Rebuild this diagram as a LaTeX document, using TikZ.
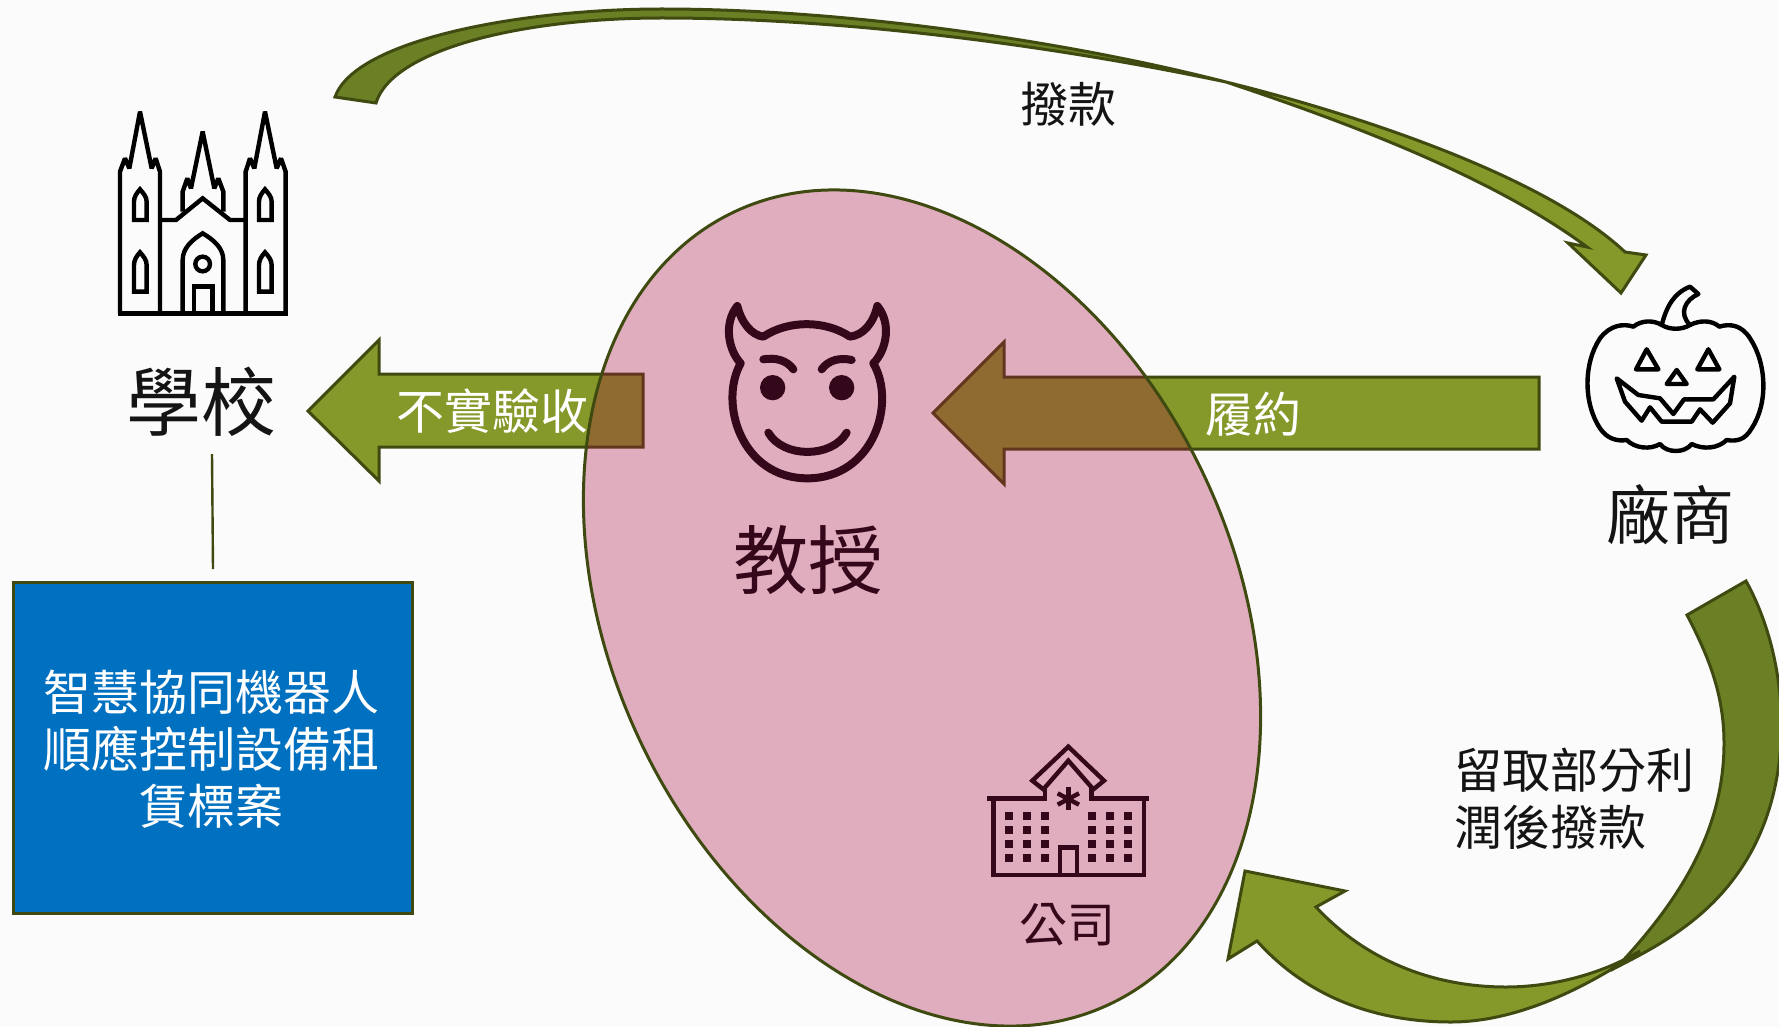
\documentclass[tikz,border=0pt]{standalone}
\usepackage{fontspec}
\setmainfont{Noto Sans CJK TC}
\usetikzlibrary{shapes.geometric}
\definecolor{bgc}{RGB}{251,251,251}
\definecolor{rim}{RGB}{63,74,16}
\definecolor{lightg}{RGB}{133,153,42}
\definecolor{darkg}{RGB}{107,127,37}
\definecolor{pinkc}{RGB}{167,15,64}
\definecolor{bluec}{RGB}{0,112,192}
\definecolor{plum}{RGB}{53,7,26}
\definecolor{ink}{RGB}{20,20,20}
\tikzset{
  lband/.style={fill=lightg,draw=rim,line width=3pt,line join=miter},
  dband/.style={fill=darkg,draw=rim,line width=3pt,line join=miter},
  bigtxt/.style={inner sep=0pt,text=ink,font=\fontsize{75pt}{75pt}\selectfont},
  midtxt/.style={inner sep=0pt,text=ink,font=\fontsize{64pt}{64pt}\selectfont},
  txt/.style={inner sep=0pt,font=\fontsize{48pt}{57pt}\selectfont},
  iconB/.style={draw=black,line width=4.4pt,line join=miter,miter limit=2},
  iconP/.style={draw=plum,line width=4.4pt,line join=miter},
}
\begin{document}
\begin{tikzpicture}[x=1pt,y=-1pt]
\useasboundingbox (0,0) rectangle (1779,1027);
\clip (0,0) rectangle (1779,1027);
\fill[bgc] (0,0) rectangle (1779,1027);

% straight arrows
\draw[lband] (308,411) -- (379,340) -- (379,374) -- (643,374) -- (643,447) -- (379,447) -- (379,481) -- cycle;
\draw[lband] (933,413) -- (1004,342) -- (1004,377) -- (1539,377) -- (1539,449) -- (1004,449) -- (1004,484) -- cycle;

% top curved arrow
\draw[dband] (335,97) .. controls (355,40) and (520,9) .. (662,9)
  .. controls (850,9) and (1070,42) .. (1226,82)
  .. controls (1060,47) and (850,18) .. (662,18)
  .. controls (520,18) and (392,50) .. (376,103) -- cycle;
\draw[lband] (1226,82) .. controls (1340,110) and (1540,172) .. (1625,252)
  -- (1646,255) -- (1621,293) -- (1568,243) -- (1587,247)
  .. controls (1490,175) and (1340,120) .. (1226,82) -- cycle;

% bottom curved arrow
\draw[dband] (1746,581) .. controls (1790,660) and (1800,790) .. (1735,877)
  .. controls (1700,925) and (1650,950) .. (1617,967)
  .. controls (1680,900) and (1724,830) .. (1724,743)
  .. controls (1724,690) and (1705,650) .. (1687,615) -- cycle;
\draw[lband] (1640,951) .. controls (1590,985) and (1520,1022) .. (1451,1022)
  .. controls (1380,1022) and (1310,1000) .. (1257,941)
  -- (1228,959) -- (1245,871) -- (1345,891) -- (1316,907)
  .. controls (1370,965) and (1440,987) .. (1506,987)
  .. controls (1550,987) and (1600,975) .. (1640,951) -- cycle;

% ellipse
\node[ellipse,minimum width=623.4pt,minimum height=876.8pt,inner sep=0pt,rotate=25.4,
  fill=pinkc,fill opacity=.33,draw=rim,draw opacity=1,line width=3pt] (prof) at (922,608) {};

% box
\node[rectangle,anchor=north west,minimum width=399pt,minimum height=331pt,inner sep=0pt,
  fill=bluec,draw=rim,line width=3pt] (box) at (12,581) {};
\node[txt,text=white,align=center] (boxt) at (211,749) {智慧協同機器人\\順應控制設備租\\賃標案};
\coordinate (ltop) at (212,454);
\coordinate (lbot) at (213,569);
\draw[rim,line width=2.4pt] (ltop) -- (lbot);

% labels
\node[bigtxt] (school) at (201,402) {學校};
\node[bigtxt,text=plum] (proflabel) at (808,560) {教授};
\node[midtxt] (vendor) at (1670,515) {廠商};
\node[txt,text=white] (t1) at (492,411) {不實驗收};
\node[txt,text=white] (t2) at (1253,414) {履約};
\node[txt,text=ink] (t3) at (1068,104) {撥款};
\node[txt,text=plum] (t4) at (1067,925) {公司};
\node[txt,text=ink,align=left,anchor=west] (t5) at (1454,799) {留取部分利\\潤後撥款};

% church
\begin{scope}[shift={(90,90)},x=.33333pt,y=-.33333pt]
\draw[iconB] (90,670) -- (90,245) -- (105,205) -- (118,235) -- (150,65) -- (185,235) -- (197,205) -- (210,245) -- (210,670);
\draw[iconB] (467,670) -- (467,245) -- (480,205) -- (493,235) -- (525,65) -- (560,235) -- (573,205) -- (587,245) -- (587,670);
\draw[iconB] (84,670) -- (593,670);
\draw[iconB] (278,365) -- (278,305) -- (292,265) -- (303,295) -- (338,125) -- (373,295) -- (385,265) -- (400,305) -- (400,365);
\draw[iconB] (215,390) -- (258,390) -- (338,325) -- (420,390) -- (467,390);
\draw[iconB] (278,665) -- (278,510) .. controls (278,475) and (305,450) .. (338,430) .. controls (372,450) and (400,475) .. (400,510) -- (400,665);
\draw[iconB] (312,665) -- (312,590) -- (367,590) -- (367,665);
\draw[iconB] (338,522) circle (22);
\foreach \dx in {0,375}{
  \begin{scope}[shift={(\dx,0)}]
  \draw[iconB] (132,390) -- (132,335) .. controls (132,320) and (140,310) .. (150,298) .. controls (160,310) and (170,320) .. (170,335) -- (170,390) -- cycle;
  \draw[iconB] (132,605) -- (132,525) .. controls (132,510) and (140,498) .. (150,487) .. controls (160,498) and (170,510) .. (170,525) -- (170,605) -- cycle;
  \end{scope}
}
\end{scope}

% devil
\begin{scope}[shift={(700,280)},x=.33333pt,y=-.33333pt]
\draw[draw=plum,line width=8pt,line join=round] (122,250) .. controls (85,210) and (70,130) .. (112,78)
  .. controls (125,130) and (155,165) .. (190,170)
  .. controls (265,120) and (375,120) .. (450,170)
  .. controls (490,165) and (520,130) .. (532,78)
  .. controls (575,130) and (560,210) .. (520,250)
  .. controls (590,370) and (520,595) .. (322,595)
  .. controls (125,595) and (55,370) .. (122,250) -- cycle;
\draw[draw=plum,line width=8pt,line cap=round] (190,238) .. controls (225,232) and (260,240) .. (280,268);
\draw[draw=plum,line width=8pt,line cap=round] (365,268) .. controls (385,240) and (420,232) .. (455,240);
\fill[plum] (218,323) circle (38);
\fill[plum] (425,323) circle (38);
\draw[draw=plum,line width=8pt,line cap=round] (205,458) .. controls (250,535) and (395,535) .. (440,458);
\end{scope}

% pumpkin
\begin{scope}[shift={(1560,270)},x=.33333pt,y=-.33333pt]
\draw[iconB,line join=round] (220,170) .. controls (245,150) and (280,150) .. (305,165)
  .. controls (330,180) and (365,180) .. (390,165)
  .. controls (420,150) and (455,150) .. (478,170)
  .. controls (510,160) and (545,165) .. (570,205)
  .. controls (620,280) and (625,400) .. (575,475)
  .. controls (555,510) and (530,515) .. (500,510)
  .. controls (475,535) and (430,540) .. (395,522)
  .. controls (375,550) and (320,550) .. (300,522)
  .. controls (270,540) and (225,535) .. (200,510)
  .. controls (170,515) and (140,505) .. (120,475)
  .. controls (70,400) and (70,280) .. (120,205)
  .. controls (150,165) and (190,160) .. (220,170) -- cycle;
\draw[iconB,line join=round] (305,165) .. controls (320,110) and (340,70) .. (390,50) -- (415,72)
  .. controls (375,90) and (355,130) .. (390,165);
\draw[iconB,line join=round] (260,238) -- (295,298) -- (228,298) -- cycle;
\draw[iconB,line join=round] (445,238) -- (478,298) -- (412,298) -- cycle;
\draw[iconB,line join=round] (350,300) -- (380,342) -- (320,342) -- cycle;
\draw[iconB,line join=round] (170,325) -- (235,375) -- (300,385) -- (340,432) -- (372,388) -- (460,388) -- (523,320) -- (510,400) -- (458,458) -- (420,418) -- (395,455) -- (305,455) -- (270,412) -- (245,452) -- (195,395) -- cycle;
\end{scope}

% company building
\begin{scope}[shift={(970,730)},x=.33333pt,y=-.33333pt]
\draw[iconP] (70,207) -- (70,435) -- (522,435) -- (522,207);
\draw[iconP] (52,205) -- (225,205) -- (225,170);
\draw[iconP] (365,170) -- (365,205) -- (538,205);
\draw[iconP] (187,152) -- (295,50) -- (402,152) -- (370,178) -- (295,92) -- (220,178) -- cycle;
\draw[iconP] (295,170) -- (295,240);
\draw[iconP] (263,190) -- (327,224);
\draw[iconP] (263,224) -- (327,190);
\foreach \wx in {117,171,225,366,420,474}{
  \foreach \wy in {259,300,342,384}{
    \fill[plum] (\wx-12,\wy-12) rectangle (\wx+12,\wy+12);
  }
}
\draw[iconP] (270,435) -- (270,352) -- (321,352) -- (321,435);
\end{scope}
\end{tikzpicture}
\end{document}
